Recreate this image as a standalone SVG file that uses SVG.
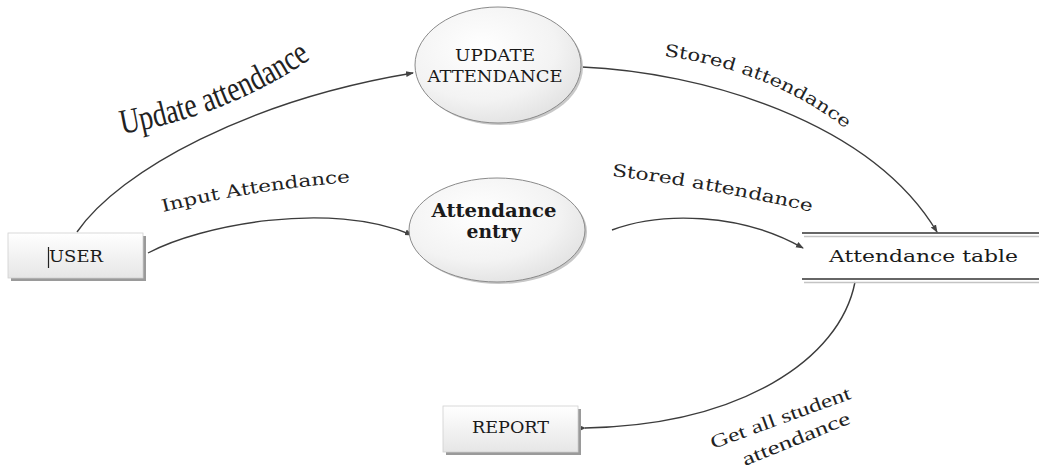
<svg xmlns="http://www.w3.org/2000/svg" width="1039" height="470" viewBox="0 0 1039 470">
<defs>
<linearGradient id="boxg" x1="0" y1="0" x2="0" y2="1">
<stop offset="0" stop-color="#ffffff"/><stop offset="1" stop-color="#e6e6e6"/>
</linearGradient>
<radialGradient id="ellg" cx="0.4" cy="0.35" r="0.75">
<stop offset="0" stop-color="#ffffff"/><stop offset="0.6" stop-color="#f3f3f3"/><stop offset="1" stop-color="#dedede"/>
</radialGradient>
<marker id="arr" markerWidth="8" markerHeight="8" refX="7" refY="4" orient="auto" markerUnits="userSpaceOnUse">
<path d="M0,1 L8,4 L0,7 Z" fill="#444"/>
</marker>
<marker id="arrBig" markerWidth="14" markerHeight="12" refX="1" refY="6" orient="auto-start-reverse" markerUnits="userSpaceOnUse">
<path d="M14,0 L0,6 L14,12 Z" fill="#444"/>
</marker>
<path id="p-upd" d="M122,134 Q230,115 312,58"/>
<path id="p-st1" d="M664,56 Q770,70 846,129"/>
<path id="p-inp" d="M163,212 Q250,190 352,182"/>
<path id="p-st2" d="M612,176 Q700,186 812,212"/>
</defs>
<style>
.node text{font-family:"DejaVu Serif","Liberation Serif",serif;fill:#1a1a1a}
.lbl{font-family:"Liberation Serif",serif;fill:#222}
.lbl2{font-family:"DejaVu Serif","Liberation Serif",serif;fill:#222}
.edge{fill:none;stroke:#3c3c3c;stroke-width:1.4}
.shadow{fill:#9a9a9a}
.ell{fill:url(#ellg);stroke:#8a8a8a;stroke-width:1}
.box{fill:url(#boxg);stroke:#d0d0d0;stroke-width:0.8}
</style>

<g id="connectors">
<path class="edge" d="M77,232 C120,170 250,100 413,73" marker-end="url(#arr)"/>
<path class="edge" d="M582,67 C700,72 870,120 937,232" marker-end="url(#arr)"/>
<path class="edge" d="M148,253 C200,225 330,200 412,235" marker-end="url(#arr)"/>
<path class="edge" d="M612,230 C660,212 740,212 803,248" marker-end="url(#arr)"/>
<path class="edge" d="M855,282 C840,360 740,425 585,428" marker-end="url(#arrBig)"/>
<text class="lbl" font-size="35"><textPath href="#p-upd" textLength="205" lengthAdjust="spacingAndGlyphs">Update attendance</textPath></text>
<text class="lbl2" font-size="17"><textPath href="#p-st1" textLength="198" lengthAdjust="spacingAndGlyphs">Stored attendance</textPath></text>
<text class="lbl2" font-size="17"><textPath href="#p-inp" textLength="190" lengthAdjust="spacingAndGlyphs">Input Attendance</textPath></text>
<text class="lbl2" font-size="17"><textPath href="#p-st2" textLength="203" lengthAdjust="spacingAndGlyphs">Stored attendance</textPath></text>
<text class="lbl" font-size="19" transform="translate(713,449) rotate(-20)" textLength="148" lengthAdjust="spacingAndGlyphs">Get all student</text>
<text class="lbl" font-size="19" transform="translate(745,466) rotate(-22)" textLength="115" lengthAdjust="spacingAndGlyphs">attendance</text>
</g>

<g id="update-attendance" class="node">
<ellipse cx="500" cy="67" rx="83" ry="58" fill="#c8c8c8"/>
<ellipse class="ell" cx="498" cy="65" rx="83" ry="58"/>
<text x="495" y="61" font-size="17" text-anchor="middle" textLength="80" lengthAdjust="spacingAndGlyphs">UPDATE</text>
<text x="495" y="82" font-size="17" text-anchor="middle" textLength="135" lengthAdjust="spacingAndGlyphs">ATTENDANCE</text>
</g>

<g id="attendance-entry" class="node">
<ellipse cx="499" cy="232" rx="88" ry="52" fill="#c8c8c8"/>
<ellipse class="ell" cx="497" cy="230" rx="88" ry="52"/>
<text x="494" y="217" font-size="18" font-weight="bold" text-anchor="middle" textLength="125" lengthAdjust="spacingAndGlyphs">Attendance</text>
<text x="494" y="238" font-size="18" font-weight="bold" text-anchor="middle" textLength="55" lengthAdjust="spacingAndGlyphs">entry</text>
</g>

<g id="user" class="node">
<rect x="11" y="236" width="135" height="45" class="shadow"/>
<rect x="8" y="233" width="135" height="45" class="box"/>
<line x1="48.5" y1="247" x2="48.5" y2="268" stroke="#222" stroke-width="1.2"/>
<text x="49" y="262" font-size="17" textLength="54" lengthAdjust="spacingAndGlyphs">USER</text>
</g>

<g id="attendance-table" class="node">
<line x1="802" y1="233" x2="1039" y2="233" stroke="#333" stroke-width="1.6"/>
<line x1="804" y1="236.5" x2="1039" y2="236.5" stroke="#c4c4c4" stroke-width="1.4"/>
<line x1="802" y1="279" x2="1039" y2="279" stroke="#333" stroke-width="1.6"/>
<line x1="804" y1="282.5" x2="1039" y2="282.5" stroke="#c4c4c4" stroke-width="1.4"/>
<text x="829" y="262" font-size="17" textLength="189" lengthAdjust="spacingAndGlyphs">Attendance table</text>
</g>

<g id="report" class="node">
<rect x="446" y="409" width="135" height="46" class="shadow"/>
<rect x="443" y="406" width="135" height="46" class="box"/>
<text x="472" y="433" font-size="17" textLength="77" lengthAdjust="spacingAndGlyphs">REPORT</text>
</g>
</svg>
